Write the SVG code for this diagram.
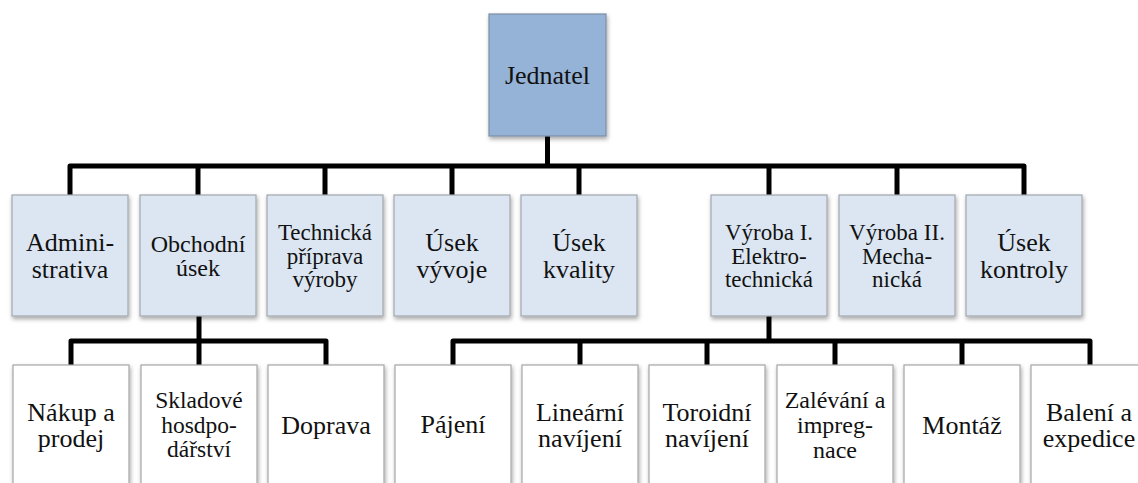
<svg xmlns="http://www.w3.org/2000/svg" width="1138" height="483" viewBox="0 0 1138 483">
  <defs>
    <filter id="shadow" x="-10%" y="-10%" width="125%" height="125%">
      <feDropShadow dx="1" dy="2.5" stdDeviation="2" flood-color="#000" flood-opacity="0.35"/>
    </filter>
  </defs>
  <style>
    .box { stroke-width: 1.2; filter: url(#shadow); }
    .top { fill: #95b3d7; stroke: #7d8ea6; }
    .mid { fill: #dce6f2; stroke: #a3a7ad; }
    .low { fill: #ffffff; stroke: #a6a6a6; }
    .wire { fill: none; stroke: #000; stroke-width: 5; stroke-linejoin: round; }
    .lbl { fill: #111; text-anchor: middle; font-family: "Times New Roman", Tinos, "Liberation Serif", "Noto Serif", "DejaVu Serif", FreeSerif, "Nimbus Roman", Times, serif; }
  </style>
  <rect width="1138" height="483" fill="#fff"/>

  <!-- connectors -->
  <g id="connectors">
    <path class="wire" d="M547.5,136 V166"/>
    <path class="wire" d="M70,195 V166 H1024 V195"/>
    <path class="wire" d="M198,166 V195 M325,166 V195 M452,166 V195 M579,166 V195 M769,166 V195 M897,166 V195"/>
    <path class="wire" d="M199,316 V365"/>
    <path class="wire" d="M71,365 V341 H326 V365"/>
    <path class="wire" d="M769,316 V341"/>
    <path class="wire" d="M453,365 V341 H1090 V365"/>
    <path class="wire" d="M580,341 V365 M707,341 V365 M835,341 V365 M962,341 V365"/>
  </g>

  <!-- top level -->
  <g id="jednatel">
    <rect class="box top" x="489" y="14" width="117" height="122"/>
    <text class="lbl" x="547.5" y="84" font-size="26">Jednatel</text>
  </g>

  <!-- departments -->
  <g id="administrativa">
    <rect class="box mid" x="12" y="195" width="116" height="121"/>
    <text class="lbl" x="70" font-size="26"><tspan y="251.2">Admini-</tspan><tspan x="70" y="278">strativa</tspan></text>
  </g>
  <g id="obchodni-usek">
    <rect class="box mid" x="140" y="195" width="116" height="121"/>
    <text class="lbl" x="198" font-size="24"><tspan y="251.5">Obchodní</tspan><tspan x="198" y="276.3">úsek</tspan></text>
  </g>
  <g id="technicka-priprava">
    <rect class="box mid" x="267" y="195" width="116" height="121"/>
    <text class="lbl" x="325" font-size="23"><tspan y="239.8">Technická</tspan><tspan x="325" y="263.6">příprava</tspan><tspan x="325" y="287.4">výroby</tspan></text>
  </g>
  <g id="usek-vyvoje">
    <rect class="box mid" x="394" y="195" width="116" height="121"/>
    <text class="lbl" x="452" font-size="26"><tspan y="251.2">Úsek</tspan><tspan x="452" y="278">vývoje</tspan></text>
  </g>
  <g id="usek-kvality">
    <rect class="box mid" x="521" y="195" width="116" height="121"/>
    <text class="lbl" x="579" font-size="26"><tspan y="251.2">Úsek</tspan><tspan x="579" y="278">kvality</tspan></text>
  </g>
  <g id="vyroba-1">
    <rect class="box mid" x="711" y="195" width="116" height="121"/>
    <text class="lbl" x="769" font-size="23"><tspan y="239.8">Výroba I.</tspan><tspan x="769" y="263.6">Elektro-</tspan><tspan x="769" y="287.4">technická</tspan></text>
  </g>
  <g id="vyroba-2">
    <rect class="box mid" x="839" y="195" width="116" height="121"/>
    <text class="lbl" x="897" font-size="23"><tspan y="239.8">Výroba II.</tspan><tspan x="897" y="263.6">Mecha-</tspan><tspan x="897" y="287.4">nická</tspan></text>
  </g>
  <g id="usek-kontroly">
    <rect class="box mid" x="966" y="195" width="116" height="121"/>
    <text class="lbl" x="1024" font-size="26"><tspan y="251.2">Úsek</tspan><tspan x="1024" y="278">kontroly</tspan></text>
  </g>

  <!-- sub-units -->
  <g id="nakup-prodej">
    <rect class="box low" x="13" y="365" width="116" height="121"/>
    <text class="lbl" x="71" font-size="26"><tspan y="420.5">Nákup a</tspan><tspan x="71" y="447.3">prodej</tspan></text>
  </g>
  <g id="skladove-hospodarstvi">
    <rect class="box low" x="141" y="365" width="116" height="121"/>
    <text class="lbl" x="199" font-size="23.5"><tspan y="408.2">Skladové</tspan><tspan x="199" y="432.6">hosdpo-</tspan><tspan x="199" y="457">dářství</tspan></text>
  </g>
  <g id="doprava">
    <rect class="box low" x="268" y="365" width="116" height="121"/>
    <text class="lbl" x="326" y="433.5" font-size="26">Doprava</text>
  </g>
  <g id="pajeni">
    <rect class="box low" x="395" y="365" width="116" height="121"/>
    <text class="lbl" x="453" y="432.5" font-size="26">Pájení</text>
  </g>
  <g id="linearni-navijeni">
    <rect class="box low" x="522" y="365" width="116" height="121"/>
    <text class="lbl" x="580" font-size="26"><tspan y="420.5">Lineární</tspan><tspan x="580" y="447.3">navíjení</tspan></text>
  </g>
  <g id="toroidni-navijeni">
    <rect class="box low" x="649" y="365" width="116" height="121"/>
    <text class="lbl" x="707" font-size="26"><tspan y="420.5">Toroidní</tspan><tspan x="707" y="447.3">navíjení</tspan></text>
  </g>
  <g id="zalevani-impregnace">
    <rect class="box low" x="777" y="365" width="116" height="121"/>
    <text class="lbl" x="835" font-size="24"><tspan y="408">Zalévání a</tspan><tspan x="835" y="432.8">impreg-</tspan><tspan x="835" y="457.6">nace</tspan></text>
  </g>
  <g id="montaz">
    <rect class="box low" x="904" y="365" width="116" height="121"/>
    <text class="lbl" x="962" y="433.5" font-size="26">Montáž</text>
  </g>
  <g id="baleni-expedice">
    <rect class="box low" x="1031" y="365" width="116" height="121"/>
    <text class="lbl" x="1089" font-size="26"><tspan y="420.5">Balení a</tspan><tspan x="1089" y="447.3">expedice</tspan></text>
  </g>
</svg>
